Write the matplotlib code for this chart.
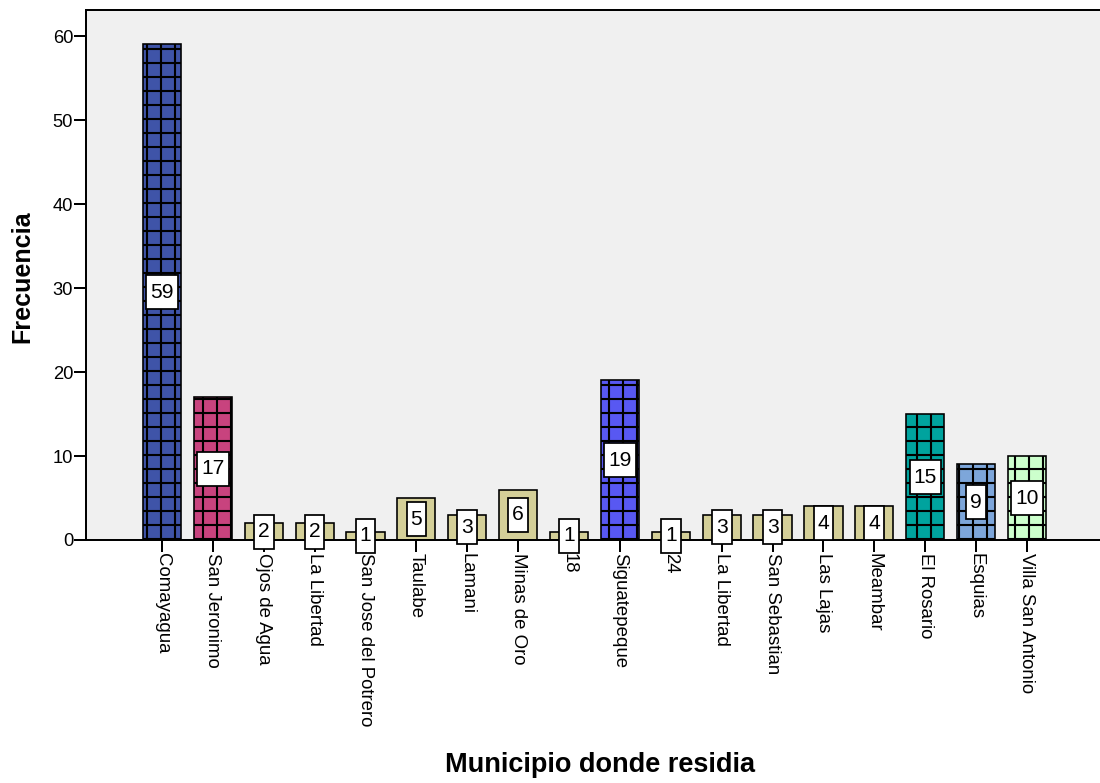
import matplotlib
matplotlib.use("Agg")
import matplotlib.pyplot as plt
from matplotlib.path import Path

# Frequency of respondents by municipality of residence
municipios = ["Comayagua", "San Jeronimo", "Ojos de Agua", "La Libertad",
              "San Jose del Potrero", "Taulabe", "Lamani", "Minas de Oro", "18",
              "Siguatepeque", "24", "La Libertad", "San Sebastian", "Las Lajas",
              "Meambar", "El Rosario", "Esquias", "Villa San Antonio"]
frecuencias = [59, 17, 2, 2, 1, 5, 3, 6, 1, 19, 1, 3, 3, 4, 4, 15, 9, 10]

TAN = "#D4CF98"
colores = ["#3F54A8", "#C8437E", TAN, TAN, TAN, TAN, TAN, TAN, TAN,
           "#5858F2", TAN, TAN, TAN, TAN, TAN, "#00A39E", "#7DA6DA", "#CCFFCC"]
yticks = [0, 10, 20, 30, 40, 50, 60]

DPI = 84
plt.rcParams["font.family"] = ["Liberation Sans", "DejaVu Sans"]
plt.rcParams["hatch.linewidth"] = 1.8
plt.rcParams["hatch.color"] = "black"


def label_box(x0, y0, width, height, mutation_size):
    """Rectangle with narrow side padding and taller top/bottom padding."""
    px = 0.19 * mutation_size
    py = 0.36 * mutation_size
    x0, y0 = x0 - px, y0 - py
    x1, y1 = x0 + width + 2 * px, y0 + height + 2 * py
    return Path([(x0, y0), (x1, y0), (x1, y1), (x0, y1), (x0, y0)],
                closed=True)


fig = plt.figure(figsize=(1100 / DPI, 783 / DPI), dpi=DPI, facecolor="white")
ax = fig.add_axes([86 / 1100, 1 - 540 / 783, 1 - 86 / 1100, 530 / 783])
ax.set_facecolor("#F0F0F0")

x = list(range(len(municipios)))
for xi, v, c in zip(x, frecuencias, colores):
    hatched = c != TAN
    ax.bar(xi, v, width=0.75, color=c, edgecolor="black",
           linewidth=1.4, hatch="+" if hatched else None, zorder=2)
    ax.text(xi, v / 2, str(v), ha="center", va="center", fontsize=18,
            zorder=4,
            bbox=dict(boxstyle=label_box, facecolor="white",
                      edgecolor="black", linewidth=1.5))

ax.set_xlim(-1.494, 18.436)
ax.set_ylim(0, 63.1)
ax.set_yticks(yticks)
ax.set_yticklabels([str(t) for t in yticks], fontsize=15.8)
ax.set_xticks(x)
ax.set_xticklabels(municipios, rotation=-90, fontsize=16,
                   ha="center", va="top")
ax.tick_params(axis="both", direction="out", length=10, width=1.7,
               color="black", pad=1)

for side in ("top", "left", "bottom"):
    ax.spines[side].set_linewidth(1.7)
    ax.spines[side].set_color("black")
ax.spines["right"].set_visible(False)

fig.text(22 / 1100, 1 - 277 / 783, "Frecuencia", rotation=90, ha="center",
         va="center", fontsize=21.5, fontweight="bold")
fig.text(600 / 1100, 1 - 765 / 783, "Municipio donde residia", ha="center",
         va="center", fontsize=23.3, fontweight="bold")

fig.savefig("out.png", dpi=DPI, facecolor="white")
